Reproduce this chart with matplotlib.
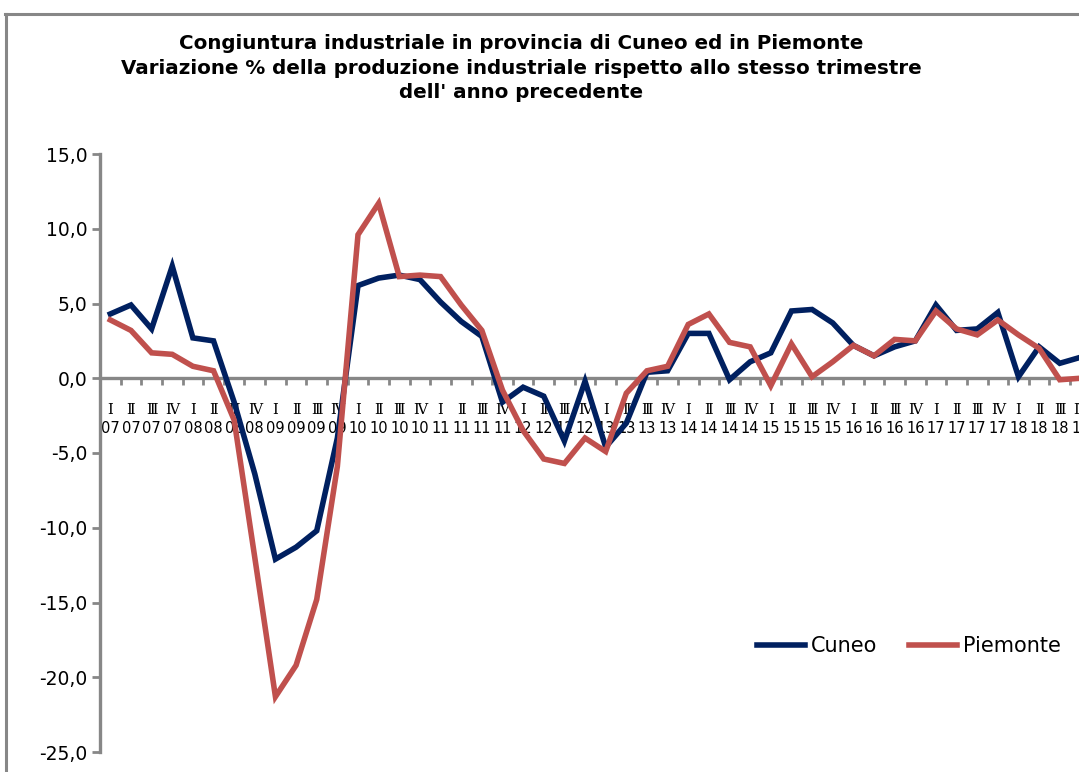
import matplotlib
matplotlib.use("Agg")
import matplotlib.pyplot as plt
from matplotlib.lines import Line2D
from matplotlib.ticker import FuncFormatter, FixedLocator

# ---------------- data ----------------
quarters = ["Ⅰ", "Ⅱ", "Ⅲ", "Ⅳ"]
years = ["07", "08", "09", "10", "11", "12", "13", "14", "15", "16", "17", "18"]
quarter_labels = [q for y in years for q in quarters]
year_labels = [y for y in years for q in quarters]

cuneo = [4.3, 4.9, 3.3, 7.5, 2.7, 2.5, -1.6, -6.4, -12.1, -11.3, -10.2, -4.0,
         6.2, 6.7, 6.9, 6.6, 5.1, 3.8, 2.8, -1.6, -0.6, -1.2, -4.2, -0.2,
         -4.6, -3.0, 0.4, 0.5, 3.0, 3.0, -0.1, 1.1, 1.7, 4.5, 4.6, 3.7,
         2.2, 1.5, 2.1, 2.5, 4.9, 3.2, 3.3, 4.4, 0.1, 2.1, 1.0, 1.4]

piemonte = [3.9, 3.2, 1.7, 1.6, 0.8, 0.5, -2.8, -12.0, -21.3, -19.2, -14.8, -5.9,
            9.6, 11.7, 6.8, 6.9, 6.8, 4.9, 3.2, -0.8, -3.5, -5.4, -5.7, -4.0,
            -4.9, -1.0, 0.5, 0.8, 3.6, 4.3, 2.4, 2.1, -0.5, 2.3, 0.1, 1.1,
            2.2, 1.5, 2.6, 2.5, 4.5, 3.3, 2.9, 3.9, 2.9, 2.0, -0.1, 0.0]

series_names = ["Cuneo", "Piemonte"]
series_colors = ["#002060", "#C0504D"]

title = ("Congiuntura industriale in provincia di Cuneo ed in Piemonte\n"
         "Variazione % della produzione industriale rispetto allo stesso trimestre\n"
         "dell' anno precedente")

# ---------------- figure ----------------
W, H = 1079, 772
fig = plt.figure(figsize=(W / 100, H / 100), dpi=100)
fig.patch.set_facecolor("white")

cat_w = 20.64
n = len(quarter_labels)
ax_left, ax_bottom, ax_top = 100, 752, 154
ax_right = ax_left + cat_w * n
ax = fig.add_axes([ax_left / W, 1 - ax_bottom / H,
                   (ax_right - ax_left) / W, (ax_bottom - ax_top) / H])
ymin, ymax = -25, 15
ax.set_xlim(-0.5, n - 0.5)
ax.set_ylim(ymin, ymax)

x = list(range(n))
lw = 4.0
ax.plot(x, cuneo, color=series_colors[0], lw=lw, label=series_names[0],
        solid_joinstyle="miter", clip_on=False, zorder=3)
ax.plot(x, piemonte, color=series_colors[1], lw=lw, label=series_names[1],
        solid_joinstyle="miter", clip_on=False, zorder=4)

gray = "#878787"
for s in ["top", "right"]:
    ax.spines[s].set_visible(False)
ax.spines["left"].set_color(gray)
ax.spines["left"].set_linewidth(2.4)
ax.spines["bottom"].set_position(("data", 0))
ax.spines["bottom"].set_color(gray)
ax.spines["bottom"].set_linewidth(2.4)
ax.spines["bottom"].set_zorder(2)

# y axis
ax.set_yticks(range(-25, 16, 5))
ax.yaxis.set_major_formatter(FuncFormatter(lambda v, p: f"{v:.1f}".replace(".", ",")))
ax.tick_params(axis="y", direction="out", length=6, width=2, color=gray,
               labelsize=13.5, pad=3, labelcolor="black")

# x axis: year labels (sans) on main axis
ax.xaxis.set_major_locator(FixedLocator(x))
ax.set_xticklabels(year_labels)
ax.xaxis.set_minor_locator(FixedLocator([i + 0.5 for i in range(n)]))
ax.tick_params(axis="x", which="major", length=0, pad=30.5, labelsize=10.5,
               labelcolor="black")
ax.tick_params(axis="x", which="minor", direction="out", length=5, width=2,
               color=gray)

# quarter numerals (serif) on a secondary axis placed at y = 0
zero_frac = (0 - ymin) / (ymax - ymin)
sec = ax.secondary_xaxis(zero_frac)
sec.set_xticks(x)
sec.set_xticklabels(quarter_labels, fontfamily=["DejaVu Serif"], fontsize=10.5)
sec.spines["bottom"].set_visible(False)
sec.spines["top"].set_visible(False)
sec.tick_params(axis="x", which="both", length=0, pad=18, labelcolor="black")
sec.xaxis.set_ticks_position("bottom")
sec.xaxis.set_label_position("bottom")

# title
fig.text(521 / W, 1 - 68 / H, title, ha="center", va="center",
         fontsize=14.3, fontweight="bold", linespacing=1.35)

# legend
leg = ax.legend(loc="center left", bbox_to_anchor=(757 / W, 1 - 646 / H),
                bbox_transform=fig.transFigure, ncol=2, frameon=False,
                fontsize=15, handlelength=2.3, handletextpad=0.3,
                columnspacing=1.5, borderpad=0, borderaxespad=0)

# chart-area border (top and left)
fig.add_artist(Line2D([5.5 / W, 5.5 / W], [0, 1 - 14 / H],
                      transform=fig.transFigure, color=gray, lw=2.2))
fig.add_artist(Line2D([4.5 / W, 1.0], [1 - 14 / H, 1 - 14 / H],
                      transform=fig.transFigure, color=gray, lw=2.2))

fig.savefig("out.png", dpi=100)
